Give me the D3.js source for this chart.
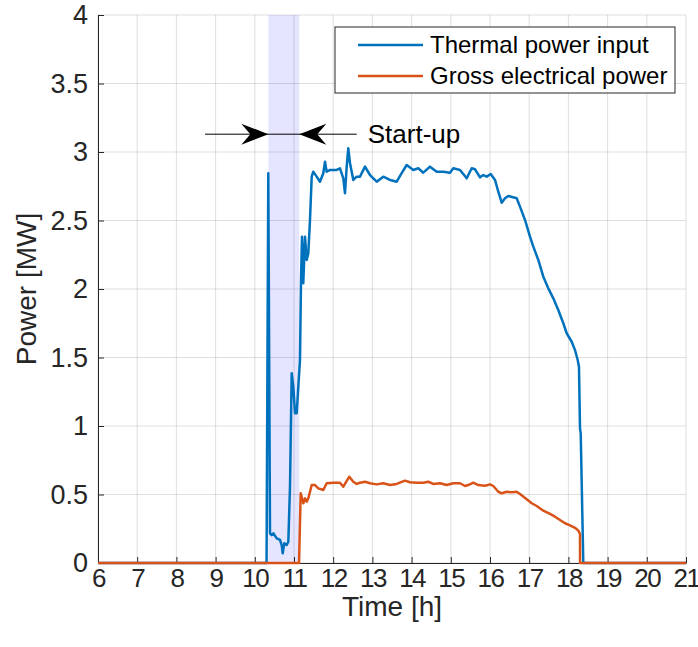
<!DOCTYPE html>
<html>
<head>
<meta charset="utf-8">
<script src="https://cdn.jsdelivr.net/npm/d3@7"></script>
<style>
  body { margin: 0; background: #fff; }
  svg { display: block; font-family: "Liberation Sans", Arial, sans-serif; }
</style>
</head>
<body>
<svg id="chart"></svg>
<script>
// [time h, power MW]
const thermalPower = [
  [6, 0], [10.30, 0], [10.344, 2.845], [10.388, 0.217], [10.431, 0.204], [10.472, 0.217],
  [10.559, 0.18], [10.643, 0.168], [10.686, 0.131], [10.712, 0.071], [10.753, 0.144],
  [10.814, 0.131], [10.855, 0.155], [10.898, 0.557], [10.941, 1.385], [10.982, 1.287],
  [11.026, 1.093], [11.069, 1.093], [11.110, 1.287], [11.153, 1.482], [11.179, 2.066],
  [11.204, 2.382], [11.237, 2.042], [11.281, 2.382], [11.324, 2.212], [11.365, 2.261],
  [11.408, 2.504], [11.452, 2.82], [11.492, 2.856], [11.579, 2.82], [11.663, 2.783],
  [11.747, 2.845], [11.791, 2.929], [11.834, 2.856], [11.918, 2.869], [12.089, 2.869],
  [12.173, 2.881], [12.258, 2.808], [12.301, 2.699], [12.344, 2.893], [12.385, 3.027],
  [12.429, 2.918], [12.513, 2.796], [12.599, 2.82], [12.684, 2.82], [12.811, 2.893],
  [12.939, 2.832], [13.110, 2.783], [13.278, 2.82], [13.449, 2.796], [13.620, 2.783],
  [13.747, 2.845], [13.875, 2.905], [14.043, 2.869], [14.171, 2.881], [14.298, 2.849],
  [14.469, 2.893], [14.640, 2.856], [14.809, 2.856], [14.980, 2.849], [15.064, 2.881],
  [15.235, 2.869], [15.406, 2.808], [15.533, 2.881], [15.617, 2.874], [15.745, 2.815],
  [15.829, 2.832], [15.916, 2.82], [16.018, 2.839], [16.128, 2.796], [16.212, 2.71],
  [16.298, 2.63], [16.383, 2.662], [16.467, 2.679], [16.681, 2.662], [16.765, 2.601],
  [16.893, 2.504], [17.020, 2.382], [17.105, 2.309], [17.232, 2.212], [17.360, 2.09],
  [17.487, 2.005], [17.615, 1.932], [17.742, 1.847], [17.870, 1.75], [17.957, 1.677],
  [18.084, 1.615], [18.168, 1.555], [18.237, 1.482], [18.270, 1.433], [18.296, 0.983],
  [18.314, 0.947], [18.355, 0.363], [18.380, 0], [21, 0]
];

const electricalPower = [
  [6, 0], [11.128, 0], [11.171, 0.509], [11.237, 0.436], [11.281, 0.472], [11.324, 0.447],
  [11.365, 0.472], [11.452, 0.569], [11.536, 0.569], [11.620, 0.545], [11.747, 0.533],
  [11.834, 0.582], [12.003, 0.586], [12.173, 0.586], [12.258, 0.557], [12.411, 0.63],
  [12.513, 0.593], [12.599, 0.577], [12.684, 0.586], [12.811, 0.593], [12.939, 0.582],
  [13.110, 0.574], [13.278, 0.582], [13.449, 0.569], [13.620, 0.577], [13.832, 0.601],
  [13.959, 0.589], [14.130, 0.586], [14.298, 0.586], [14.426, 0.593], [14.554, 0.577],
  [14.724, 0.582], [14.895, 0.569], [15.064, 0.582], [15.235, 0.582], [15.362, 0.562],
  [15.446, 0.569], [15.574, 0.586], [15.702, 0.569], [15.872, 0.564], [16.0, 0.574],
  [16.084, 0.562], [16.212, 0.52], [16.298, 0.509], [16.426, 0.52], [16.554, 0.516],
  [16.681, 0.52], [16.765, 0.504], [16.936, 0.465], [17.064, 0.436], [17.191, 0.416],
  [17.360, 0.382], [17.531, 0.358], [17.658, 0.338], [17.786, 0.314], [17.913, 0.29],
  [18.041, 0.275], [18.168, 0.257], [18.253, 0.236], [18.296, 0.212], [18.297, 0], [21, 0]
];

const xTicks = d3.range(6, 22, 1);
const yTicks = d3.range(0, 4.01, 0.5);
const startupWindow = [10.345, 11.135];
const startupArrow = {from: 8.73, to: 12.6, level: 3.13, label: 'Start-up'};
const seriesNames = ['Thermal power input', 'Gross electrical power'];
const colors = ['#0072bd', '#d95319'];

const width = 698, height = 647;
const margin = {left: 98, top: 15, right: 12, bottom: 84};
const ink = '#262626';

const svg = d3.select('#chart')
  .attr('width', width)
  .attr('height', height);

const x = d3.scaleLinear().domain([6, 21]).range([margin.left, width - margin.right]);
const y = d3.scaleLinear().domain([0, 4]).range([height - margin.bottom, margin.top]);

// grid
svg.append('g')
  .selectAll('line')
  .data(xTicks)
  .join('line')
    .attr('x1', d => x(d)).attr('x2', d => x(d))
    .attr('y1', y(0)).attr('y2', y(4))
    .attr('stroke', ink).attr('stroke-opacity', 0.15);
svg.append('g')
  .selectAll('line')
  .data(yTicks)
  .join('line')
    .attr('x1', x(6)).attr('x2', x(21))
    .attr('y1', d => y(d)).attr('y2', d => y(d))
    .attr('stroke', ink).attr('stroke-opacity', 0.15);

// start-up window shading
svg.append('rect')
  .attr('x', x(startupWindow[0]))
  .attr('y', y(4))
  .attr('width', x(startupWindow[1]) - x(startupWindow[0]))
  .attr('height', y(0) - y(4))
  .attr('fill', '#0000ff')
  .attr('fill-opacity', 0.1);

// axes
const xAxis = d3.axisBottom(x)
  .tickValues(xTicks)
  .tickSizeInner(-6)
  .tickSizeOuter(0)
  .tickPadding(6);
const yAxis = d3.axisLeft(y)
  .tickValues(yTicks)
  .tickFormat(d3.format('~g'))
  .tickSizeInner(-6)
  .tickSizeOuter(0)
  .tickPadding(10);

svg.append('g')
  .attr('transform', `translate(0,${y(0)})`)
  .call(xAxis)
  .call(g => g.select('.domain').attr('stroke', ink))
  .call(g => g.selectAll('.tick line').attr('stroke', ink))
  .call(g => g.selectAll('.tick text')
    .attr('fill', ink).attr('font-size', 26).attr('font-family', null)
    .attr('letter-spacing', '-1.5px'));

svg.append('g')
  .attr('transform', `translate(${x(6)},0)`)
  .call(yAxis)
  .call(g => g.select('.domain').attr('stroke', ink))
  .call(g => g.selectAll('.tick line').attr('stroke', ink))
  .call(g => g.selectAll('.tick text')
    .attr('fill', ink).attr('font-size', 27).attr('font-family', null));

// axis labels
svg.append('text')
  .attr('x', (x(6) + x(21)) / 2)
  .attr('y', 616)
  .attr('text-anchor', 'middle')
  .attr('font-size', 28)
  .attr('fill', ink)
  .text('Time [h]');

svg.append('text')
  .attr('transform', `translate(36,${(y(0) + y(4)) / 2}) rotate(-90)`)
  .attr('text-anchor', 'middle')
  .attr('font-size', 28)
  .attr('fill', ink)
  .text('Power [MW]');

// series
const line = d3.line().x(d => x(d[0])).y(d => y(d[1]));
[thermalPower, electricalPower].forEach((series, i) => {
  svg.append('path')
    .datum(series)
    .attr('fill', 'none')
    .attr('stroke', colors[i])
    .attr('stroke-width', 2.5)
    .attr('stroke-linejoin', 'round')
    .attr('d', line);
});

// start-up arrows
const ay = y(startupArrow.level);
svg.append('line')
  .attr('x1', x(startupArrow.from)).attr('x2', x(startupArrow.to))
  .attr('y1', ay).attr('y2', ay)
  .attr('stroke', '#000').attr('stroke-width', 1);

function arrowHead(tipX, dir) {
  const len = 27, half = 10.5, notch = 9;
  const p = d3.path();
  p.moveTo(tipX, ay);
  p.lineTo(tipX - dir * len, ay - half);
  p.lineTo(tipX - dir * (len - notch), ay);
  p.lineTo(tipX - dir * len, ay + half);
  p.closePath();
  return p.toString();
}
svg.append('path').attr('d', arrowHead(x(startupWindow[0]), 1)).attr('fill', '#000');
svg.append('path').attr('d', arrowHead(x(startupWindow[1]), -1)).attr('fill', '#000');

svg.append('text')
  .attr('x', x(startupArrow.to) + 11)
  .attr('y', ay)
  .attr('dy', '0.35em')
  .attr('font-size', 26)
  .attr('fill', '#000')
  .text(startupArrow.label);

// legend
const legend = svg.append('g').attr('transform', 'translate(335,27)');
legend.append('rect')
  .attr('width', 340).attr('height', 66)
  .attr('fill', '#fff').attr('stroke', ink).attr('stroke-width', 1);
seriesNames.forEach((name, i) => {
  const ly = 18 + i * 31;
  legend.append('line')
    .attr('x1', 23).attr('x2', 88)
    .attr('y1', ly).attr('y2', ly)
    .attr('stroke', colors[i]).attr('stroke-width', 2.5);
  legend.append('text')
    .attr('x', 95).attr('y', ly).attr('dy', '0.35em')
    .attr('font-size', 24)
    .attr('fill', '#000')
    .text(name);
});
</script>
</body>
</html>
